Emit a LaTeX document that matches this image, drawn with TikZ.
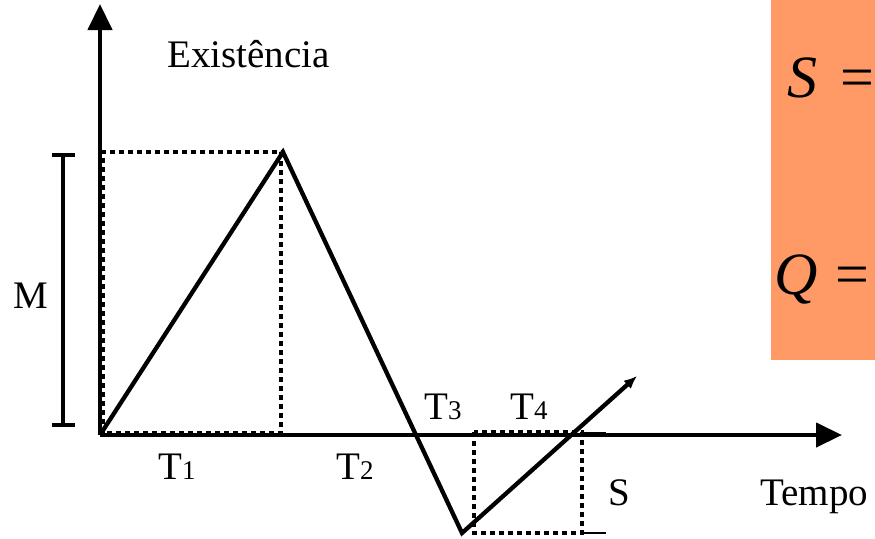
\documentclass[tikz,border=0pt]{standalone}
\usepackage{fontspec}
\setmainfont{Liberation Serif}
\usetikzlibrary{arrows.meta}
\definecolor{panelorange}{RGB}{255,153,102}
\newcommand{\subdig}[1]{{\fontsize{27}{27}\selectfont #1}}
\begin{document}
\begin{tikzpicture}[x=1pt,y=-1pt,
  thick line/.style={line width=4.3pt},
  dotline/.style={line width=4.3pt,dash pattern=on 5pt off 4pt},
  thinline/.style={line width=1.3pt},
  lbl/.style={inner sep=0pt,font=\fontsize{39}{39}\selectfont},
  eqlbl/.style={inner sep=0pt,font=\fontsize{60}{60}\selectfont}]
\useasboundingbox (0,0) rectangle (875,538);
\fill[panelorange] (771,0) rectangle (880,360);
% coordinates
\coordinate (O) at (100,435);
\coordinate (Ytop) at (100,4);
\coordinate (Xend) at (842,435);
\coordinate (P) at (283,152);
\coordinate (V) at (462,533);
\coordinate (E) at (637,376);
% axes
\draw[thick line,-{Triangle[length=26pt,width=24pt]}] (O) -- (Ytop);
\draw[thick line,-{Triangle[length=26pt,width=24pt]}] (O) -- (Xend);
% dotted rectangles
\draw[dotline] (103,433) -- (103,152) -- (281,152) -- (281,433) -- cycle;
\draw[dotline] (474,432) rectangle (582,533);
% thin ticks
\coordinate (a1) at (582,433); \coordinate (a2) at (606,433);
\coordinate (b1) at (582,533); \coordinate (b2) at (606,533);
\draw[thinline] (a1) -- (a2);
\draw[thinline] (b1) -- (b2);
% curve
\draw[thick line,line join=miter,-{Latex[length=13pt,width=11pt]}] (O) -- (P) -- (V) -- (E);
% M bracket
\coordinate (m1) at (63,155); \coordinate (m2) at (63,425);
\draw[line width=4.3pt] (m1) -- (m2);
\draw[line width=4.3pt] (52,155) -- (75,155);
\draw[line width=4.3pt] (52,425) -- (75,425);
% labels
\node[lbl,anchor=base west] (ex) at (167,67) {Existência};
\node[lbl,anchor=base west] (M) at (13,308) {M};
\node[lbl,anchor=base west] (t1) at (158,479) {T\subdig{1}};
\node[lbl,anchor=base west] (t2) at (336,479) {T\subdig{2}};
\node[lbl,anchor=base west] (t3) at (424,419) {T\subdig{3}};
\node[lbl,anchor=base west] (t4) at (510,419) {T\subdig{4}};
\node[lbl,anchor=base west] (s) at (608,505) {S};
\node[lbl,anchor=base west] (tempo) at (760,505) {Tempo};
\node[eqlbl,anchor=base west] (seq) at (787,97) {\textit{S}};
\node[eqlbl,anchor=base west] (seqeq) at (840,97) {=};
\node[eqlbl,anchor=base west] (qeq) at (774,294) {\textit{Q}};
\node[eqlbl,anchor=base west] (qeqeq) at (835,294) {=};
\end{tikzpicture}
\end{document}
